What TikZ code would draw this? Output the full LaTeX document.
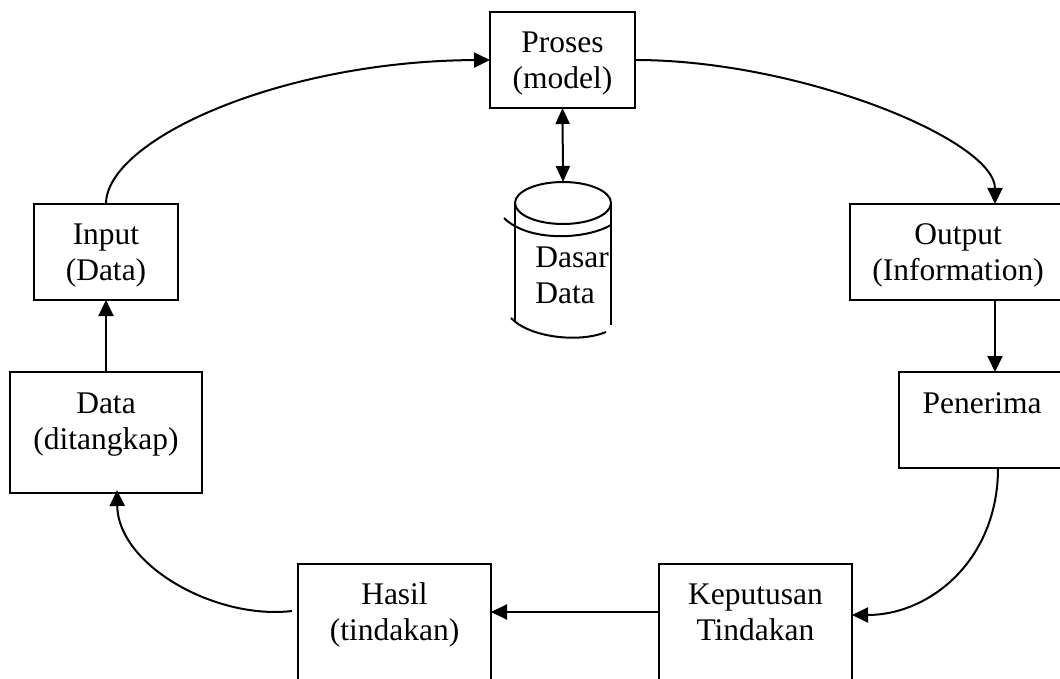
\documentclass[tikz,border=0pt]{standalone}
\usepackage{fontspec}
\setmainfont{Liberation Serif}
\usetikzlibrary{arrows.meta,calc}
\begin{document}
\begin{tikzpicture}[x=0.5pt,y=-0.5pt,
  line/.style={line width=1pt,black},
  box/.style={draw,line width=1pt,rectangle,outer sep=0pt,inner sep=0pt},
  txt/.style={inner sep=0pt,font=\fontsize{15.75pt}{18pt}\selectfont},
  conn/.style={line width=1pt,-{Triangle[length=8pt,width=7.5pt]}},
  dconn/.style={line width=1pt,{Triangle[length=8pt,width=7pt]}-{Triangle[length=8pt,width=7pt]}}]
\path[use as bounding box,fill=white] (0,0) rectangle (1060,679);
\clip (0,0) rectangle (1060,679);
% boxes
\node[box,minimum width=72.5pt,minimum height=48pt] (proses) at (562.5,60) {};
\node[box,minimum width=72pt,minimum height=48pt] (input) at (106,252) {};
\node[box,minimum width=108pt,minimum height=48pt] (output) at (958,252) {};
\node[box,minimum width=96pt,minimum height=60.5pt] (data) at (106,432.5) {};
\node[box,minimum width=83pt,minimum height=48pt] (penerima) at (982,420) {};
\node[box,minimum width=96.5pt,minimum height=78pt] (hasil) at (394.5,642) {};
\node[box,minimum width=96.5pt,minimum height=78pt] (keputusan) at (755.5,642) {};
% texts
\node[txt,anchor=base] (t-proses) at (562.5,53) {\begin{tabular}[t]{@{}c@{}}Proses\\(model)\end{tabular}};
\node[txt,anchor=base] (t-input) at (106,245) {\begin{tabular}[t]{@{}c@{}}Input\\(Data)\end{tabular}};
\node[txt,anchor=base] (t-output) at (958,245) {\begin{tabular}[t]{@{}c@{}}Output\\(Information)\end{tabular}};
\node[txt,anchor=base] (t-data) at (106,413) {\begin{tabular}[t]{@{}c@{}}Data\\(ditangkap)\end{tabular}};
\node[txt,anchor=base] (t-penerima) at (982,413) {Penerima};
\node[txt,anchor=base] (t-hasil) at (394.5,604) {\begin{tabular}[t]{@{}c@{}}Hasil\\(tindakan)\end{tabular}};
\node[txt,anchor=base] (t-keputusan) at (755.5,604) {\begin{tabular}[t]{@{}c@{}}Keputusan\\Tindakan\end{tabular}};
% database cylinder
\draw[line] (563,203) ellipse [x radius=48, y radius=21];
\draw[line] (515,203) -- (515,322);
\draw[line] (611,203) -- (611,325);
\draw[line] (504,218) .. controls (528,242) and (585,240) .. (611,225);
\draw[line] (511,318) .. controls (530,338) and (580,343) .. (606,332);
\coordinate (dbtop) at (563,182);
\node[txt,anchor=base west] (t-db) at (535,268) {\begin{tabular}[t]{@{}l@{}}Dasar\\Data\end{tabular}};
% connectors
\draw[conn] (input.north) .. controls (106,140) and (280,61) .. (proses.west);
\draw[conn] (proses.east) .. controls (800,60) and (995,140) .. ($(output.north west)+(145,0)$);
\draw[conn] ($(output.south west)+(145,0)$) -- ($(penerima.north west)+(96,0)$);
\draw[conn] ($(penerima.south west)+(99,0)$) .. controls (998,560) and (930,615) .. ($(keputusan.north east)+(0,51)$);
\draw[conn] ($(keputusan.north west)+(0,48)$) -- ($(hasil.north east)+(0,48)$);
\draw[conn] ($(hasil.north west)+(-6,47)$) .. controls (215,620) and (118,565) .. ($(data.south west)+(107,-3)$);
\draw[conn] (data.north) -- (input.south);
\draw[dconn] (proses.south) -- (dbtop);
\end{tikzpicture}
\end{document}
